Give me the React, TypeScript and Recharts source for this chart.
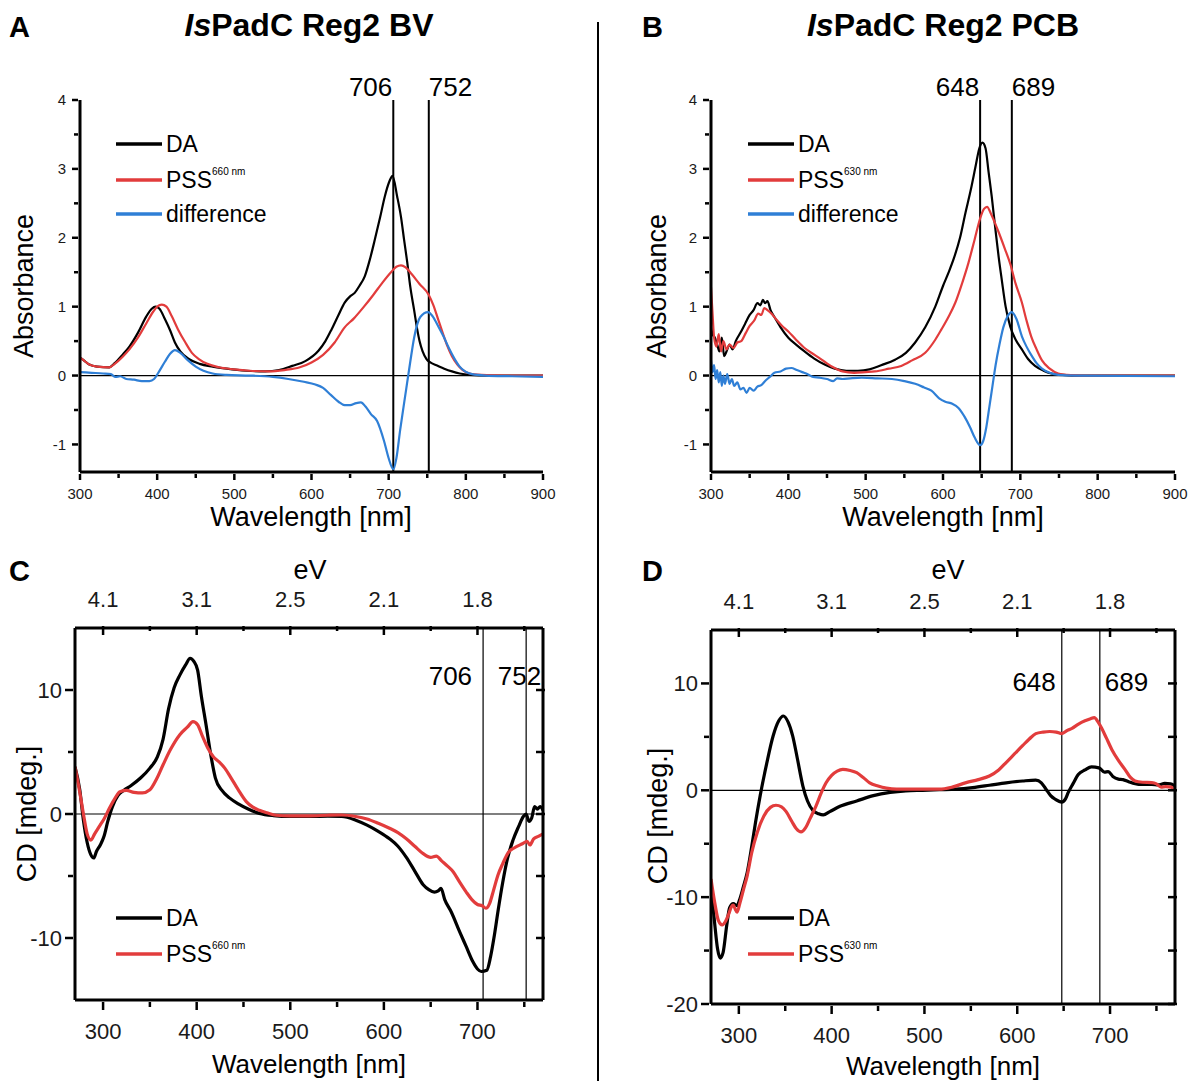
import React from 'react';
import { LineChart, Line, XAxis, YAxis, ReferenceLine } from 'recharts';

const FONT = '"Liberation Sans", Arial, Helvetica, sans-serif';
const BLACK = '#000000';
const RED = '#e23c3c';
const BLUE = '#2f7fd6';

type Pt = [number, number];

// ---------- Panel A : IsPadC Reg2 BV absorbance ----------
const aDA: Pt[] = [[300,0.26],[305,0.22],[312,0.16],[322,0.13],[338,0.12],[345,0.18],[355,0.3],[364,0.42],[375,0.62],[386,0.86],[393,0.97],[398,1.0],[403,0.97],[410,0.82],[417,0.65],[423,0.48],[430,0.35],[441,0.24],[455,0.17],[472,0.13],[490,0.1],[515,0.07],[540,0.06],[558,0.08],[575,0.14],[592,0.21],[609,0.36],[618,0.5],[626,0.67],[635,0.88],[643,1.06],[650,1.15],[656,1.2],[662,1.3],[669,1.44],[676,1.7],[682,1.97],[689,2.3],[695,2.6],[701,2.82],[705,2.9],[711,2.6],[716,2.3],[720,1.97],[724,1.65],[728,1.29],[733,0.95],[737,0.67],[740,0.5],[744,0.35],[749,0.24],[754,0.19],[762,0.15],[772,0.1],[782,0.06],[792,0.03],[805,0.01],[830,0],[860,0],[900,0]];
const aPSS: Pt[] = [[300,0.26],[305,0.22],[312,0.16],[322,0.13],[338,0.12],[345,0.17],[355,0.27],[364,0.38],[375,0.55],[386,0.76],[395,0.93],[400,1.0],[406,1.03],[412,1.0],[419,0.86],[427,0.67],[436,0.49],[445,0.33],[454,0.24],[465,0.17],[480,0.12],[500,0.09],[520,0.07],[545,0.06],[565,0.08],[585,0.12],[600,0.19],[615,0.3],[630,0.48],[643,0.7],[655,0.83],[668,1.0],[680,1.17],[692,1.35],[703,1.5],[710,1.58],[716,1.6],[722,1.57],[730,1.47],[740,1.33],[752,1.17],[758,1.02],[764,0.82],[770,0.62],[776,0.43],[782,0.28],[789,0.16],[796,0.08],[805,0.03],[820,0.01],[850,0],[900,0]];
const aDiff: Pt[] = [[300,0.05],[315,0.04],[330,0.03],[340,0.02],[346,-0.02],[352,-0.01],[360,-0.05],[370,-0.06],[380,-0.08],[390,-0.08],[396,-0.05],[402,0.05],[410,0.2],[417,0.32],[423,0.37],[430,0.33],[440,0.22],[450,0.13],[460,0.07],[472,0.03],[490,0.01],[520,0.0],[550,-0.02],[570,-0.05],[590,-0.09],[605,-0.13],[615,-0.18],[625,-0.28],[635,-0.38],[643,-0.43],[650,-0.43],[658,-0.4],[664,-0.39],[670,-0.45],[677,-0.56],[685,-0.66],[694,-0.95],[700,-1.2],[706,-1.36],[710,-1.2],[715,-0.78],[720,-0.4],[724,-0.1],[728,0.2],[733,0.55],[741,0.85],[751,0.92],[757,0.86],[764,0.72],[771,0.57],[778,0.4],[785,0.25],[792,0.13],[799,0.06],[808,0.02],[825,0.0],[860,-0.01],[900,-0.02]];

// ---------- Panel B : IsPadC Reg2 PCB absorbance ----------
const bDA: Pt[] = [[300,0.7],[302,0.6],[305,0.55],[308,0.45],[311,0.35],[314,0.55],[317,0.28],[320,0.35],[324,0.45],[328,0.38],[332,0.5],[338,0.62],[344,0.75],[350,0.88],[355,0.95],[360,1.05],[364,1.02],[367,1.1],[370,1.05],[373,1.08],[377,0.95],[382,0.85],[390,0.7],[400,0.55],[410,0.45],[421,0.35],[433,0.25],[447,0.16],[460,0.1],[475,0.07],[490,0.07],[505,0.09],[520,0.15],[538,0.23],[552,0.33],[564,0.48],[577,0.7],[590,1.0],[600,1.3],[607,1.49],[614,1.7],[622,2.0],[629,2.36],[636,2.7],[642,3.03],[647,3.3],[651,3.38],[655,3.3],[659,2.95],[663,2.6],[668,2.1],[672,1.72],[676,1.39],[681,1.0],[687,0.71],[694,0.52],[702,0.38],[710,0.24],[719,0.14],[730,0.07],[740,0.03],[755,0.01],[770,0],[800,0],[900,0]];
const bPSS: Pt[] = [[300,1.28],[302,0.9],[304,0.55],[307,0.42],[310,0.6],[313,0.35],[316,0.5],[320,0.38],[324,0.45],[329,0.4],[334,0.48],[339,0.5],[345,0.62],[350,0.72],[356,0.8],[361,0.9],[365,0.88],[369,0.98],[373,0.95],[378,0.9],[384,0.82],[392,0.72],[400,0.64],[410,0.52],[421,0.4],[434,0.3],[447,0.2],[458,0.12],[470,0.06],[485,0.04],[500,0.05],[512,0.06],[530,0.1],[546,0.14],[560,0.22],[577,0.33],[590,0.52],[598,0.67],[607,0.85],[616,1.06],[625,1.35],[633,1.64],[641,1.98],[648,2.28],[653,2.42],[657,2.45],[662,2.35],[667,2.22],[672,2.08],[680,1.84],[687,1.62],[694,1.33],[702,1.06],[708,0.8],[714,0.57],[721,0.38],[728,0.22],[738,0.1],[749,0.03],[760,0.01],[780,0],[900,0]];
const bDiff: Pt[] = [[300,0.22],[302,0.05],[304,0.15],[306,-0.05],[308,0.08],[310,-0.1],[312,0.05],[314,-0.15],[316,0.0],[318,-0.12],[321,0.02],[324,-0.12],[327,-0.05],[330,-0.15],[334,-0.1],[338,-0.2],[342,-0.18],[346,-0.25],[350,-0.18],[355,-0.22],[360,-0.16],[365,-0.14],[370,-0.08],[376,-0.02],[382,0.04],[390,0.06],[397,0.1],[404,0.11],[411,0.08],[418,0.05],[425,0.02],[432,-0.02],[440,-0.03],[450,-0.05],[458,-0.08],[463,-0.04],[470,-0.05],[480,-0.04],[495,-0.03],[515,-0.04],[534,-0.05],[550,-0.08],[564,-0.12],[575,-0.17],[585,-0.22],[595,-0.33],[603,-0.38],[612,-0.41],[620,-0.47],[628,-0.6],[635,-0.75],[641,-0.9],[648,-1.01],[652,-0.95],[656,-0.75],[660,-0.45],[664,-0.15],[668,0.15],[673,0.45],[678,0.7],[684,0.87],[689,0.92],[695,0.82],[702,0.57],[708,0.42],[714,0.3],[721,0.18],[728,0.1],[738,0.04],[749,0.01],[770,0],[900,-0.01]];

// ---------- Panel C : CD of BV ----------
const cDA: Pt[] = [[270,3.8],[275,2.0],[279,-0.5],[283,-2.3],[287,-3.3],[290,-3.55],[293,-3.0],[297,-2.5],[301,-1.8],[305,-0.6],[310,0.6],[316,1.5],[322,1.9],[330,2.3],[340,2.9],[350,3.7],[358,4.6],[364,6.0],[370,8.5],[376,10.2],[382,11.2],[388,12.0],[393,12.55],[397,12.3],[401,11.6],[405,9.5],[410,7.2],[415,4.8],[420,2.9],[427,1.9],[435,1.3],[445,0.8],[455,0.4],[467,0.05],[482,-0.13],[500,-0.2],[520,-0.2],[540,-0.18],[555,-0.2],[570,-0.5],[582,-0.9],[594,-1.4],[606,-2.0],[615,-2.6],[624,-3.5],[633,-4.6],[642,-5.7],[648,-6.1],[654,-6.3],[658,-6.2],[661,-6.0],[665,-6.9],[672,-7.9],[681,-9.5],[688,-10.7],[695,-11.9],[700,-12.5],[704,-12.7],[710,-12.6],[714,-11.5],[718,-9.8],[722,-7.8],[727,-5.5],[732,-3.6],[738,-2.1],[744,-1.0],[749,-0.2],[752,0],[755,-0.6],[758,-0.3],[761,0.6],[764,0.4],[767,0.6],[770,0.3]];
const cPSS: Pt[] = [[270,3.8],[275,1.8],[279,0.0],[283,-1.6],[287,-2.1],[291,-1.6],[296,-1.0],[301,-0.4],[307,0.5],[313,1.3],[318,1.8],[325,1.9],[333,1.75],[342,1.7],[350,1.95],[357,2.8],[364,3.95],[372,5.2],[382,6.4],[390,7.0],[396,7.45],[401,7.2],[406,6.3],[412,5.3],[418,4.6],[424,4.2],[430,3.7],[436,3.0],[444,2.0],[453,1.0],[460,0.55],[467,0.3],[475,0.1],[485,-0.1],[500,-0.15],[520,-0.15],[540,-0.1],[555,-0.08],[570,-0.2],[582,-0.4],[594,-0.75],[606,-1.15],[615,-1.5],[624,-2.0],[633,-2.6],[642,-3.2],[650,-3.5],[656,-3.4],[662,-3.8],[668,-4.2],[674,-4.65],[681,-5.5],[688,-6.3],[694,-6.9],[700,-7.3],[705,-7.4],[709,-7.6],[713,-7.2],[717,-6.2],[722,-4.9],[727,-4.0],[733,-3.1],[740,-2.7],[748,-2.4],[753,-2.2],[756,-2.5],[760,-2.0],[765,-1.8],[770,-1.6]];

// ---------- Panel D : CD of PCB ----------
const dDA: Pt[] = [[270,-9.0],[274,-12.5],[277,-14.8],[280,-15.7],[283,-15.2],[287,-12.6],[290,-11.0],[294,-10.6],[298,-10.8],[301,-10.2],[305,-9.0],[309,-7.7],[314,-5.2],[318,-3.0],[323,-0.5],[330,2.5],[337,5.1],[343,6.5],[348,6.95],[353,6.4],[358,5.1],[363,3.0],[369,0.4],[374,-1.0],[380,-1.9],[386,-2.2],[391,-2.3],[398,-2.0],[409,-1.5],[427,-1.0],[445,-0.5],[463,-0.2],[480,-0.05],[498,0],[516,0.05],[534,0.1],[552,0.25],[570,0.47],[588,0.7],[606,0.87],[620,0.95],[626,0.7],[631,0.1],[636,-0.5],[641,-0.84],[648,-1.1],[652,-0.8],[655,-0.2],[660,0.6],[666,1.5],[673,1.9],[680,2.2],[688,2.1],[694,1.7],[698,1.75],[703,1.3],[709,1.05],[714,1.0],[720,0.8],[731,0.56],[745,0.56],[752,0.5],[759,0.65],[765,0.6],[770,0.4]];
const dPSS: Pt[] = [[270,-8.3],[274,-10.5],[278,-12.2],[282,-12.6],[286,-12.2],[289,-11.6],[292,-10.9],[294,-10.75],[296,-11.1],[298,-11.4],[301,-10.6],[305,-9.3],[309,-8.0],[314,-5.8],[320,-3.9],[327,-2.4],[334,-1.6],[340,-1.4],[346,-1.55],[351,-2.0],[357,-2.9],[362,-3.6],[367,-3.9],[372,-3.5],[377,-2.6],[383,-1.5],[389,-0.2],[394,0.7],[400,1.4],[406,1.8],[412,1.96],[420,1.85],[427,1.65],[434,1.2],[441,0.7],[450,0.4],[459,0.2],[470,0.1],[481,0.1],[500,0.1],[516,0.1],[530,0.3],[545,0.72],[558,1.0],[570,1.34],[580,1.9],[588,2.6],[597,3.4],[606,4.2],[613,4.8],[620,5.3],[628,5.45],[635,5.5],[642,5.45],[648,5.3],[654,5.6],[659,5.8],[666,6.2],[673,6.5],[679,6.7],[683,6.8],[687,6.4],[691,5.8],[696,4.9],[702,3.8],[709,2.8],[716,1.96],[722,1.2],[727,0.87],[735,0.75],[745,0.72],[750,0.6],[755,0.3],[760,0.35],[766,0.3],[770,0.0]];

// ---------- ticks ----------
const absXTicks = [300, 350, 400, 450, 500, 550, 600, 650, 700, 750, 800, 850, 900];
const absXMajor = [300, 400, 500, 600, 700, 800, 900];
const absYTicks = [-1, -0.5, 0, 0.5, 1, 1.5, 2, 2.5, 3, 3.5, 4];
const absYMajor = [-1, 0, 1, 2, 3, 4];
const cdXTicks = [300, 350, 400, 450, 500, 550, 600, 650, 700, 750];
const cdXMajor = [300, 400, 500, 600, 700];
const evLabels = ['4.1', '3.1', '2.5', '2.1', '1.8'];
const cYTicks = [-10, -5, 0, 5, 10];
const cYMajor = [-10, 0, 10];
const dYTicks = [-20, -15, -10, -5, 0, 5, 10];
const dYMajor = [-20, -10, 0, 10];

const pts = (a: Pt[]) => a.map(([x, y]) => ({ x, y }));

// ---------- tick renderers ----------
const bottomTick = (major: number[], fs: number, lenM: number, lenm: number, base: number) => (p: any) => {
  const v = p.payload.value;
  const isM = major.includes(v);
  return (
    <g>
      <line x1={p.x} x2={p.x} y1={p.y} y2={p.y + (isM ? lenM : lenm)} stroke={BLACK} strokeWidth={2.5} />
      {isM && (
        <text x={p.x} y={p.y + base} textAnchor="middle" fontSize={fs} fontFamily={FONT} fill="#1a1a1a">
          {String(v)}
        </text>
      )}
    </g>
  );
};
const leftTick = (major: number[], fs: number, lenM: number, lenm: number, gap: number) => (p: any) => {
  const v = p.payload.value;
  const isM = major.includes(v);
  return (
    <g>
      <line x1={p.x} x2={p.x - (isM ? lenM : lenm)} y1={p.y} y2={p.y} stroke={BLACK} strokeWidth={2.5} />
      {isM && (
        <text x={p.x - gap} y={p.y + fs * 0.36} textAnchor="end" fontSize={fs} fontFamily={FONT} fill="#1a1a1a">
          {String(v)}
        </text>
      )}
    </g>
  );
};
const topTick = (major: number[], labels: string[], fs: number, lenM: number, lenm: number, gap: number) => (p: any) => {
  const v = p.payload.value;
  const idx = major.indexOf(v);
  const isM = idx >= 0;
  return (
    <g>
      <line x1={p.x} x2={p.x} y1={p.y} y2={p.y + (isM ? lenM : lenm)} stroke={BLACK} strokeWidth={2.5} />
      {isM && (
        <text x={p.x} y={p.y - gap} textAnchor="middle" fontSize={fs} fontFamily={FONT} fill="#1a1a1a">
          {labels[idx]}
        </text>
      )}
    </g>
  );
};
const rightTick = (len: number) => (p: any) => (
  <line x1={p.x} x2={p.x - len} y1={p.y} y2={p.y} stroke={BLACK} strokeWidth={2.5} />
);

interface RefDef { x: number; text: string; anchor: 'start' | 'end'; dx: number; }
const refLabel = (r: RefDef, fs: number, dy: number) => (props: any) => {
  const vb = props && props.viewBox ? props.viewBox : null;
  if (!vb) return null;
  return (
    <text x={vb.x + r.dx} y={vb.y + dy} textAnchor={r.anchor} fontSize={fs} fontFamily={FONT} fill={BLACK}>
      {r.text}
    </text>
  );
};

interface SeriesDef { data: Pt[]; color: string; }
interface PanelCfg {
  left: number; top: number; width: number; height: number;
  margin: { top: number; right: number; bottom: number; left: number };
  box: boolean;
  xDomain: [number, number]; xTicks: number[]; xMajor: number[];
  yDomain: [number, number]; yTicks: number[]; yMajor: number[];
  tickFs: number; xBase: number; yGap: number;
  tickLenM: number; tickLenm: number;
  series: SeriesDef[]; lineW: number;
  refs: RefDef[]; refW: number; refFs: number; refDy: number;
  zeroColor: string; zeroW: number;
}

const axisLine = { stroke: BLACK, strokeWidth: 3 };

const Panel = ({ c }: { c: PanelCfg }) => (
  <div style={{ position: 'absolute', left: c.left, top: c.top }}>
    <LineChart width={c.width} height={c.height} margin={c.margin}>
      <XAxis xAxisId="b" type="number" dataKey="x" domain={c.xDomain} ticks={c.xTicks} interval={0}
        allowDataOverflow height={50} tickSize={0} tickLine={false} axisLine={axisLine}
        tick={bottomTick(c.xMajor, c.tickFs, c.tickLenM, c.tickLenm, c.xBase)} />
      {c.box && (
        <XAxis xAxisId="t" orientation="top" type="number" dataKey="x" domain={c.xDomain} ticks={c.xTicks} interval={0}
          allowDataOverflow height={40} tickSize={0} tickLine={false} axisLine={axisLine}
          tick={topTick(c.xMajor, evLabels, c.tickFs, 9, 5, 19)} />
      )}
      <YAxis yAxisId="l" type="number" domain={c.yDomain} ticks={c.yTicks} interval={0}
        allowDataOverflow width={60} tickSize={0} tickLine={false} axisLine={axisLine}
        tick={leftTick(c.yMajor, c.tickFs, c.tickLenM, c.tickLenm, c.yGap)} />
      {c.box && (
        <YAxis yAxisId="r" orientation="right" type="number" domain={c.yDomain} ticks={c.yTicks} interval={0}
          allowDataOverflow width={20} tickSize={0} tickLine={false} axisLine={axisLine}
          tick={rightTick(9)} />
      )}
      <ReferenceLine xAxisId="b" yAxisId="l" y={0} stroke={c.zeroColor} strokeWidth={c.zeroW} />
      {c.refs.map((r) => (
        <ReferenceLine key={r.text} xAxisId="b" yAxisId="l" x={r.x} stroke={BLACK} strokeWidth={c.refW}
          label={refLabel(r, c.refFs, c.refDy)} />
      ))}
      {c.series.map((s, i) => (
        <Line key={i} xAxisId="b" yAxisId="l" data={pts(s.data)} dataKey="y" type="monotone" stroke={s.color}
          strokeWidth={c.lineW} dot={false} activeDot={false} isAnimationActive={false} />
      ))}
    </LineChart>
  </div>
);

const panelA: PanelCfg = {
  left: 0, top: 0, width: 600, height: 540,
  margin: { top: 100, right: 57, bottom: 18, left: 20 }, box: false,
  xDomain: [300, 900], xTicks: absXTicks, xMajor: absXMajor,
  yDomain: [-1.4, 4], yTicks: absYTicks, yMajor: absYMajor,
  tickFs: 15, xBase: 25, yGap: 12, tickLenM: 6, tickLenm: 4,
  series: [{ data: aDA, color: BLACK }, { data: aPSS, color: RED }, { data: aDiff, color: BLUE }], lineW: 2.2,
  refs: [{ x: 706, text: '706', anchor: 'end', dx: -1 }, { x: 752, text: '752', anchor: 'start', dx: 0 }],
  refW: 2, refFs: 26, refDy: -4, zeroColor: BLACK, zeroW: 1.2,
};
const panelB: PanelCfg = {
  ...panelA, left: 600, width: 595,
  margin: { top: 100, right: 20, bottom: 18, left: 51 },
  series: [{ data: bDA, color: BLACK }, { data: bPSS, color: RED }, { data: bDiff, color: BLUE }],
  refs: [{ x: 648, text: '648', anchor: 'end', dx: -1 }, { x: 689, text: '689', anchor: 'start', dx: 0 }],
};
const panelC: PanelCfg = {
  left: 0, top: 540, width: 600, height: 541,
  margin: { top: 48, right: 37, bottom: 31, left: 15 }, box: true,
  xDomain: [270, 770], xTicks: cdXTicks, xMajor: cdXMajor,
  yDomain: [-15, 15], yTicks: cYTicks, yMajor: cYMajor,
  tickFs: 22, xBase: 37, yGap: 11, tickLenM: 8, tickLenm: 5,
  series: [{ data: cDA, color: BLACK }, { data: cPSS, color: RED }], lineW: 3.2,
  refs: [{ x: 706, text: '706', anchor: 'end', dx: -11 }, { x: 752, text: '752', anchor: 'end', dx: 15 }],
  refW: 1.2, refFs: 26, refDy: 57, zeroColor: '#555555', zeroW: 1.5,
};
const panelD: PanelCfg = {
  ...panelC, left: 600, width: 595,
  margin: { top: 50, right: 0, bottom: 27, left: 51 },
  yDomain: [-20, 15], yTicks: dYTicks, yMajor: dYMajor,
  series: [{ data: dDA, color: BLACK }, { data: dPSS, color: RED }],
  refs: [{ x: 648, text: '648', anchor: 'end', dx: -6 }, { x: 689, text: '689', anchor: 'start', dx: 5 }],
  refDy: 61, zeroColor: BLACK, zeroW: 1.2,
};

const T = (p: { x: number; y: number; fs: number; children: React.ReactNode; anchor?: string; bold?: boolean; rot?: boolean }) => (
  <text x={p.x} y={p.y} fontSize={p.fs} fontFamily={FONT} fill={BLACK} textAnchor={(p.anchor || 'start') as any}
    fontWeight={p.bold ? 'bold' : 'normal'} transform={p.rot ? `rotate(-90 ${p.x} ${p.y})` : undefined}>
    {p.children}
  </text>
);

const LegendRow = ({ x, y, color, label, sup }: { x: number; y: number; color: string; label: string; sup?: string }) => (
  <g>
    <line x1={x} x2={x + 46} y1={y} y2={y} stroke={color} strokeWidth={3.5} />
    <text x={x + 50} y={y + 8} fontSize={23} fontFamily={FONT} fill={BLACK}>
      {label}
      {sup && <tspan fontSize={10} dy={-13}>{sup}</tspan>}
    </text>
  </g>
);

export default function App() {
  return (
    <div style={{ position: 'absolute', left: 0, top: 0, width: 1195, height: 1081, background: '#ffffff', overflow: 'hidden' }}>
      <Panel c={panelA} />
      <Panel c={panelB} />
      <Panel c={panelC} />
      <Panel c={panelD} />
      <svg width={1195} height={1081} style={{ position: 'absolute', left: 0, top: 0, pointerEvents: 'none' }}>
        <line x1={598} x2={598} y1={22} y2={1081} stroke={BLACK} strokeWidth={2} />
        {/* panel letters */}
        <T x={9} y={37} fs={29} bold>A</T>
        <T x={642} y={37} fs={29} bold>B</T>
        <T x={9} y={581} fs={29} bold>C</T>
        <T x={642} y={581} fs={29} bold>D</T>
        {/* titles */}
        <text x={309} y={36} fontSize={32} fontFamily={FONT} fontWeight="bold" textAnchor="middle">
          <tspan fontStyle="italic">Is</tspan>PadC Reg2 BV
        </text>
        <text x={943} y={36} fontSize={32} fontFamily={FONT} fontWeight="bold" textAnchor="middle">
          <tspan fontStyle="italic">Is</tspan>PadC Reg2 PCB
        </text>
        {/* axis titles */}
        <T x={311} y={526} fs={27} anchor="middle">Wavelength [nm]</T>
        <T x={943} y={526} fs={27} anchor="middle">Wavelength [nm]</T>
        <T x={309} y={1073} fs={26} anchor="middle">Wavelength [nm]</T>
        <T x={943} y={1075} fs={26} anchor="middle">Wavelength [nm]</T>
        <T x={33} y={286} fs={27} anchor="middle" rot>Absorbance</T>
        <T x={666} y={286} fs={27} anchor="middle" rot>Absorbance</T>
        <T x={36} y={814} fs={27} anchor="middle" rot>CD [mdeg.]</T>
        <T x={667} y={816} fs={27} anchor="middle" rot>CD [mdeg.]</T>
        <T x={310} y={579} fs={27} anchor="middle">eV</T>
        <T x={948} y={579} fs={27} anchor="middle">eV</T>
        {/* legends */}
        <LegendRow x={116} y={144} color={BLACK} label="DA" />
        <LegendRow x={116} y={180} color={RED} label="PSS" sup="660 nm" />
        <LegendRow x={116} y={214} color={BLUE} label="difference" />
        <LegendRow x={748} y={144} color={BLACK} label="DA" />
        <LegendRow x={748} y={180} color={RED} label="PSS" sup="630 nm" />
        <LegendRow x={748} y={214} color={BLUE} label="difference" />
        <LegendRow x={116} y={918} color={BLACK} label="DA" />
        <LegendRow x={116} y={954} color={RED} label="PSS" sup="660 nm" />
        <LegendRow x={748} y={918} color={BLACK} label="DA" />
        <LegendRow x={748} y={954} color={RED} label="PSS" sup="630 nm" />
      </svg>
    </div>
  );
}
